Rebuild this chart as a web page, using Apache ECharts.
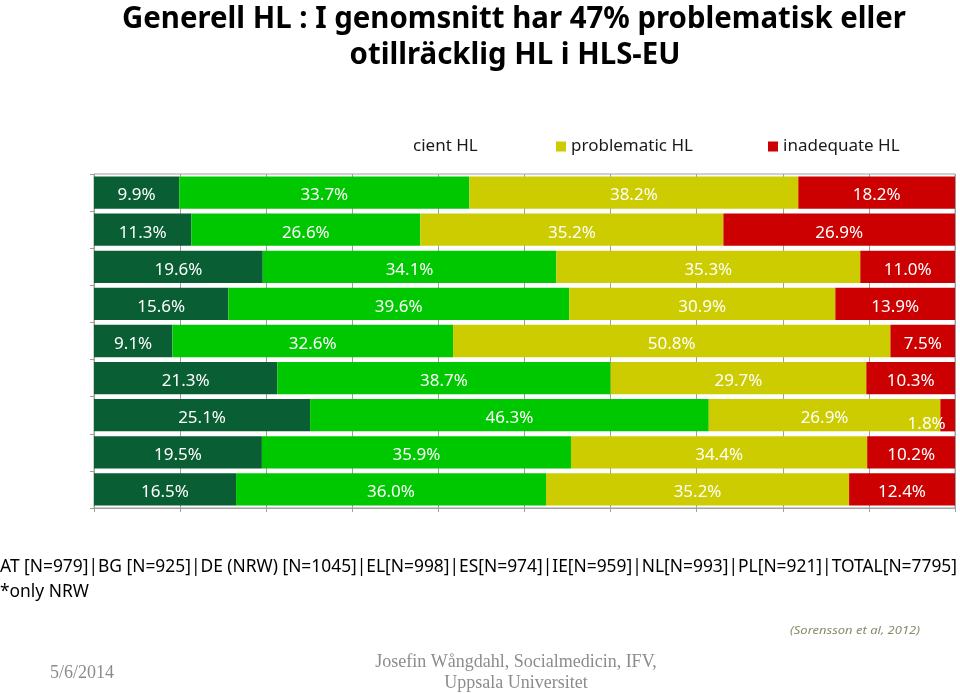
<!DOCTYPE html>
<html>
<head>
<meta charset="utf-8">
<script src="https://cdn.jsdelivr.net/npm/echarts@6/dist/echarts.min.js"></script>
<style>
  html, body { margin: 0; padding: 0; background: #ffffff; }
  #chart { width: 960px; height: 694px; }
</style>
</head>
<body>
<div id="chart"></div>
<script>
// ---- data ----
const categories = ['AT', 'BG', 'DE (NRW)', 'EL', 'ES', 'IE', 'NL', 'PL', 'TOTAL'];
const seriesNames = ['excellent HL', 'sufficient HL', 'problematic HL', 'inadequate HL'];
const excellent   = [9.9, 11.3, 19.6, 15.6, 9.1, 21.3, 25.1, 19.5, 16.5];
const sufficient  = [33.7, 26.6, 34.1, 39.6, 32.6, 38.7, 46.3, 35.9, 36.0];
const problematic = [38.2, 35.2, 35.3, 30.9, 50.8, 29.7, 26.9, 34.4, 35.2];
const inadequate  = [18.2, 26.9, 11.0, 13.9, 7.5, 10.3, 1.8, 10.2, 12.4];
const titleLines = ['Generell HL : I genomsnitt har 47% problematisk eller', 'otillräcklig HL i HLS-EU'];
const sampleText = 'AT [N=979]|BG [N=925]|DE (NRW) [N=1045]|EL[N=998]|ES[N=974]|IE[N=959]|NL[N=993]|PL[N=921]|TOTAL[N=7795]';
const noteText = '*only NRW';
const sourceText = '(Sorensson et al, 2012)';
const dateText = '5/6/2014';
const footerLines = ['Josefin Wångdahl, Socialmedicin, IFV,', 'Uppsala Universitet'];
const clippedLegendText = 'cient HL';

// ---- styles ----
const colors = ['#0a5e34', '#00c800', '#cccc00', '#cc0000'];
const FONT = "'Noto Sans', sans-serif";
const SERIF = "'Liberation Serif', 'DejaVu Serif', serif";
const TITLE_FONT = "bold 30px 'Noto Sans', sans-serif";
const SAMPLE_FONT = "18px 'Noto Sans', sans-serif";
const SOURCE_FONT = "italic 11px 'Noto Sans', sans-serif";

const measureCtx = document.createElement('canvas').getContext('2d');
function fitScale(text, font, width) {
  measureCtx.font = font;
  return width / measureCtx.measureText(text).width;
}

const allData = [excellent, sufficient, problematic, inadequate];

const series = allData.map((vals, si) => ({
  name: seriesNames[si],
  type: 'bar',
  stack: 'total',
  barCategoryGap: '13%',
  itemStyle: { color: colors[si] },
  label: {
    show: true,
    position: 'inside',
    color: '#ffffff',
    fontFamily: FONT,
    fontSize: 17,
    formatter: p => p.value.toFixed(1) + '%',
    offset: [0, 3]
  },
  data: vals.map(v => (v < 3 ? { value: v, label: { offset: [-21, 9] } } : v))
}));

const titleScale1 = fitScale(titleLines[0], TITLE_FONT, 784);
const sampleScale = fitScale(sampleText, SAMPLE_FONT, 957);
const sourceScale = fitScale(sourceText, SOURCE_FONT, 130);

const chart = echarts.init(document.getElementById('chart'), null, { renderer: 'canvas' });
chart.setOption({
  animation: false,
  backgroundColor: '#ffffff',
  grid: {
    left: 94, right: 5, top: 174, bottom: 186,
    show: true, borderColor: '#a0a0a0', borderWidth: 1, backgroundColor: 'transparent'
  },
  legend: [
    {
      data: ['problematic HL'], left: 551, top: 133, itemWidth: 10, itemHeight: 10,
      icon: 'rect', textStyle: { fontFamily: FONT, fontSize: 17, color: '#1a1a1a' }
    },
    {
      data: ['inadequate HL'], left: 763, top: 133, itemWidth: 10, itemHeight: 10,
      icon: 'rect', textStyle: { fontFamily: FONT, fontSize: 17, color: '#1a1a1a' }
    }
  ],
  xAxis: {
    type: 'value', min: 0, max: 100, interval: 10,
    axisLine: { show: true, lineStyle: { color: '#a0a0a0' } },
    axisTick: { show: true, length: 4, lineStyle: { color: '#a0a0a0' } },
    axisLabel: { show: false },
    splitLine: { show: true, lineStyle: { color: '#a0a0a0' } }
  },
  yAxis: {
    type: 'category', data: categories, inverse: true,
    axisLine: { show: true, lineStyle: { color: '#a0a0a0' } },
    axisTick: { show: true, length: 4, lineStyle: { color: '#a0a0a0' } },
    axisLabel: { show: false },
    splitLine: { show: false }
  },
  series: series,
  graphic: [
    { type: 'text', x: 514, y: 4, scaleX: titleScale1,
      style: { text: titleLines[0], font: TITLE_FONT, fill: '#000', textAlign: 'center', textVerticalAlign: 'top' } },
    { type: 'text', x: 515, y: 40, scaleX: titleScale1,
      style: { text: titleLines[1], font: TITLE_FONT, fill: '#000', textAlign: 'center', textVerticalAlign: 'top' } },
    { type: 'text', x: 413, y: 138,
      style: { text: clippedLegendText, font: "17px " + FONT, fill: '#1a1a1a', textVerticalAlign: 'top' } },
    { type: 'text', x: 0, y: 558, scaleX: sampleScale,
      style: { text: sampleText, font: SAMPLE_FONT, fill: '#000', textVerticalAlign: 'top' } },
    { type: 'text', x: 0, y: 583, scaleX: sampleScale,
      style: { text: noteText, font: SAMPLE_FONT, fill: '#000', textVerticalAlign: 'top' } },
    { type: 'text', x: 790, y: 625, scaleX: sourceScale,
      style: { text: sourceText, font: SOURCE_FONT, fill: '#8a8a6a', textVerticalAlign: 'top' } },
    { type: 'text', x: 50, y: 664,
      style: { text: dateText, font: "18px " + SERIF, fill: '#8c8c8c', textVerticalAlign: 'top' } },
    { type: 'text', x: 516, y: 653,
      style: { text: footerLines[0], font: "18px " + SERIF, fill: '#8c8c8c', textAlign: 'center', textVerticalAlign: 'top' } },
    { type: 'text', x: 516, y: 674,
      style: { text: footerLines[1], font: "18px " + SERIF, fill: '#8c8c8c', textAlign: 'center', textVerticalAlign: 'top' } }
  ]
});
</script>
</body>
</html>
